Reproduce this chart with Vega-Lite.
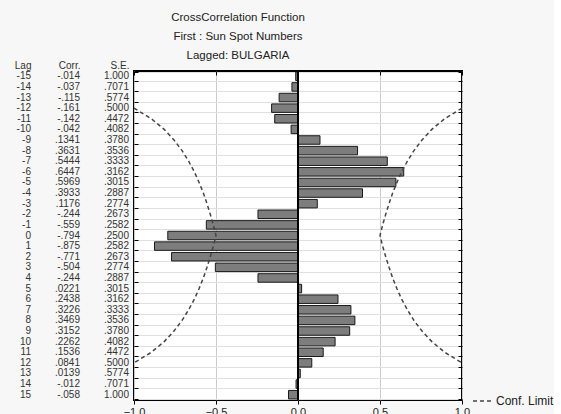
{
  "$schema": "https://vega.github.io/schema/vega-lite/v6.json",
  "background": "#f7f7f7",
  "padding": {"left": 0, "top": 11, "right": 0, "bottom": 0},
  "bounds": "flush",
  "spacing": 4,
  "title": {
    "text": ["CrossCorrelation Function", "First : Sun Spot Numbers", "Lagged: BULGARIA"],
    "fontSize": 11.5,
    "fontWeight": "normal",
    "font": "Liberation Sans",
    "color": "#222",
    "lineHeight": 19,
    "anchor": "middle",
    "dx": -39,
    "offset": -1
  },
  "config": {
    "font": "Liberation Sans",
    "axis": {"labelFont": "Liberation Sans", "labelColor": "#222", "tickColor": "#000", "domain": false, "title": null}
  },
  "datasets": {
    "ccf": [
      {"lag": -15, "corr": -0.014, "lo": -2.0, "hi": 2.0, "Lag": "-15", "Corr": "-.014", "SE": "1.000"},
      {"lag": -14, "corr": -0.037, "lo": -1.414, "hi": 1.414, "Lag": "-14", "Corr": "-.037", "SE": ".7071"},
      {"lag": -13, "corr": -0.115, "lo": -1.155, "hi": 1.155, "Lag": "-13", "Corr": "-.115", "SE": ".5774"},
      {"lag": -12, "corr": -0.161, "lo": -1.0, "hi": 1.0, "Lag": "-12", "Corr": "-.161", "SE": ".5000"},
      {"lag": -11, "corr": -0.142, "lo": -0.894, "hi": 0.894, "Lag": "-11", "Corr": "-.142", "SE": ".4472"},
      {"lag": -10, "corr": -0.042, "lo": -0.816, "hi": 0.816, "Lag": "-10", "Corr": "-.042", "SE": ".4082"},
      {"lag": -9, "corr": 0.1341, "lo": -0.756, "hi": 0.756, "Lag": "-9", "Corr": ".1341", "SE": ".3780"},
      {"lag": -8, "corr": 0.3631, "lo": -0.707, "hi": 0.707, "Lag": "-8", "Corr": ".3631", "SE": ".3536"},
      {"lag": -7, "corr": 0.5444, "lo": -0.667, "hi": 0.667, "Lag": "-7", "Corr": ".5444", "SE": ".3333"},
      {"lag": -6, "corr": 0.6447, "lo": -0.632, "hi": 0.632, "Lag": "-6", "Corr": ".6447", "SE": ".3162"},
      {"lag": -5, "corr": 0.5969, "lo": -0.603, "hi": 0.603, "Lag": "-5", "Corr": ".5969", "SE": ".3015"},
      {"lag": -4, "corr": 0.3933, "lo": -0.577, "hi": 0.577, "Lag": "-4", "Corr": ".3933", "SE": ".2887"},
      {"lag": -3, "corr": 0.1176, "lo": -0.555, "hi": 0.555, "Lag": "-3", "Corr": ".1176", "SE": ".2774"},
      {"lag": -2, "corr": -0.244, "lo": -0.535, "hi": 0.535, "Lag": "-2", "Corr": "-.244", "SE": ".2673"},
      {"lag": -1, "corr": -0.559, "lo": -0.516, "hi": 0.516, "Lag": "-1", "Corr": "-.559", "SE": ".2582"},
      {"lag": 0, "corr": -0.794, "lo": -0.5, "hi": 0.5, "Lag": "0", "Corr": "-.794", "SE": ".2500"},
      {"lag": 1, "corr": -0.875, "lo": -0.516, "hi": 0.516, "Lag": "1", "Corr": "-.875", "SE": ".2582"},
      {"lag": 2, "corr": -0.771, "lo": -0.535, "hi": 0.535, "Lag": "2", "Corr": "-.771", "SE": ".2673"},
      {"lag": 3, "corr": -0.504, "lo": -0.555, "hi": 0.555, "Lag": "3", "Corr": "-.504", "SE": ".2774"},
      {"lag": 4, "corr": -0.244, "lo": -0.577, "hi": 0.577, "Lag": "4", "Corr": "-.244", "SE": ".2887"},
      {"lag": 5, "corr": 0.0221, "lo": -0.603, "hi": 0.603, "Lag": "5", "Corr": ".0221", "SE": ".3015"},
      {"lag": 6, "corr": 0.2438, "lo": -0.632, "hi": 0.632, "Lag": "6", "Corr": ".2438", "SE": ".3162"},
      {"lag": 7, "corr": 0.3226, "lo": -0.667, "hi": 0.667, "Lag": "7", "Corr": ".3226", "SE": ".3333"},
      {"lag": 8, "corr": 0.3469, "lo": -0.707, "hi": 0.707, "Lag": "8", "Corr": ".3469", "SE": ".3536"},
      {"lag": 9, "corr": 0.3152, "lo": -0.756, "hi": 0.756, "Lag": "9", "Corr": ".3152", "SE": ".3780"},
      {"lag": 10, "corr": 0.2262, "lo": -0.816, "hi": 0.816, "Lag": "10", "Corr": ".2262", "SE": ".4082"},
      {"lag": 11, "corr": 0.1536, "lo": -0.894, "hi": 0.894, "Lag": "11", "Corr": ".1536", "SE": ".4472"},
      {"lag": 12, "corr": 0.0841, "lo": -1.0, "hi": 1.0, "Lag": "12", "Corr": ".0841", "SE": ".5000"},
      {"lag": 13, "corr": 0.0139, "lo": -1.155, "hi": 1.155, "Lag": "13", "Corr": ".0139", "SE": ".5774"},
      {"lag": 14, "corr": -0.012, "lo": -1.414, "hi": 1.414, "Lag": "14", "Corr": "-.012", "SE": ".7071"},
      {"lag": 15, "corr": -0.058, "lo": -2.0, "hi": 2.0, "Lag": "15", "Corr": "-.058", "SE": "1.000"}
    ]
  },
  "hconcat": [
    {
      "width": 130,
      "height": 329,
      "view": {"stroke": null},
      "data": {"name": "ccf"},
      "transform": [{"fold": ["Lag", "Corr", "SE"], "as": ["col", "txt"]}],
      "mark": {"type": "text", "align": "right", "baseline": "middle", "fontSize": 10, "color": "#333"},
      "encoding": {
        "x": {
          "field": "col", "type": "nominal",
          "scale": {"type": "point", "domain": ["Lag", "Corr", "SE"], "range": [31, 129], "padding": 0},
          "axis": {"orient": "top", "ticks": false, "grid": false, "labelAngle": 0, "labelAlign": "right", "labelBaseline": "bottom", "labelPadding": 1, "labelFontSize": 10, "labelColor": "#333",
                   "labelExpr": "datum.value == 'Corr' ? 'Corr.' : datum.value == 'SE' ? 'S.E.' : datum.value"}
        },
        "y": {"field": "lag", "type": "ordinal", "scale": {"paddingInner": 0.2, "paddingOuter": 0.1}, "axis": null},
        "text": {"field": "txt"}
      }
    },
    {
      "width": 328,
      "height": 329,
      "view": {"stroke": "#000", "strokeWidth": 2, "fill": "white"},
      "data": {"name": "ccf"},
      "layer": [
        {
          "mark": {"type": "bar", "fill": "#7d7d7d", "stroke": "#1a1a1a", "strokeWidth": 1},
          "encoding": {
            "x": {"field": "corr", "type": "quantitative", "scale": {"domain": [-1, 1], "nice": false, "zero": false},
                  "axis": {"orient": "bottom", "values": [-1, -0.5, 0, 0.5, 1], "format": ".1f", "labelFontSize": 11, "labelFlush": false, "tickSize": 4, "labelPadding": 2, "grid": true, "gridColor": "#cccccc"}},
            "y": {"field": "lag", "type": "ordinal", "scale": {"paddingInner": 0.2, "paddingOuter": 0.1},
                  "axis": {"orient": "left", "labels": false, "tickSize": -4, "tickBand": "extent", "grid": true, "gridColor": "#e0e0e0"}}
          }
        },
        {
          "mark": {"type": "rule", "color": "#000", "strokeWidth": 1.5},
          "encoding": {
            "x": {"datum": 0, "type": "quantitative", "axis": {"orient": "top", "labels": false, "values": [-1, -0.5, 0, 0.5, 1], "tickSize": -4, "grid": false}}
          }
        },
        {
          "transform": [{"fold": ["lo", "hi"], "as": ["side", "lim"]}],
          "mark": {"type": "line", "clip": true, "color": "#444", "strokeWidth": 1.5},
          "encoding": {
            "x": {"field": "lim", "type": "quantitative", "axis": null},
            "y": {"field": "lag", "type": "ordinal", "axis": {"orient": "right", "labels": false, "tickSize": -4, "tickBand": "extent", "grid": false}},
            "detail": {"field": "side"},
            "order": {"field": "lag", "type": "quantitative"},
            "strokeDash": {
              "datum": "Conf. Limit", "type": "nominal",
              "scale": {"range": [[4, 3]]},
              "legend": {"title": null, "orient": "none", "legendX": 472, "legendY": 320, "symbolType": "stroke", "symbolSize": 324, "symbolStrokeWidth": 1.5, "symbolStrokeColor": "#444", "labelFontSize": 12, "labelColor": "#222", "labelFont": "Liberation Sans"}
            }
          }
        }
      ]
    }
  ]
}
